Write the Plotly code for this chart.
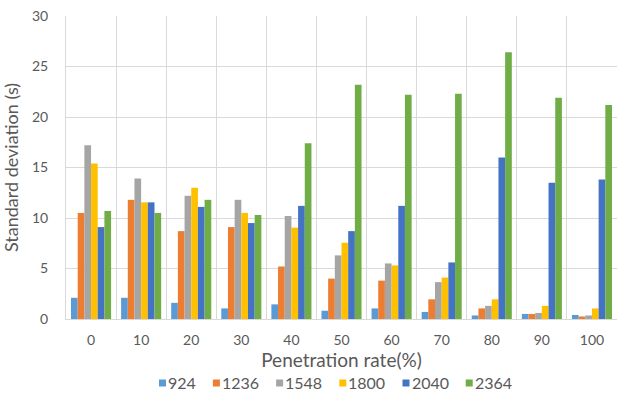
import plotly.graph_objects as go

rates = ["0", "10", "20", "30", "40", "50", "60", "70", "80", "90", "100"]
series_names = ["924", "1236", "1548", "1800", "2040", "2364"]

s924 = [2.1, 2.1, 1.6, 1.05, 1.45, 0.82, 1.05, 0.7, 0.35, 0.5, 0.4]
s1236 = [10.5, 11.8, 8.7, 9.1, 5.2, 4.0, 3.8, 1.95, 1.05, 0.5, 0.25]
s1548 = [17.2, 13.9, 12.2, 11.8, 10.2, 6.3, 5.5, 3.65, 1.3, 0.6, 0.35]
s1800 = [15.4, 11.55, 13.0, 10.5, 9.05, 7.55, 5.3, 4.1, 1.95, 1.3, 1.05]
s2040 = [9.1, 11.55, 11.1, 9.5, 11.2, 8.7, 11.2, 5.6, 16.0, 13.5, 13.8]
s2364 = [10.7, 10.5, 11.8, 10.3, 17.4, 23.2, 22.2, 22.3, 26.4, 21.9, 21.2]

colors = ["#5B9BD5", "#ED7D31", "#A5A5A5", "#FFC000", "#4472C4", "#70AD47"]
all_series = [s924, s1236, s1548, s1800, s2040, s2364]

FONT = "Lato, 'Open Sans', sans-serif"
TXT = "#595959"
GRID = "#D9D9D9"

W, H = 617, 394
ML, MR, MT, MB = 66, 0, 16, 75
PW, PH = W - ML - MR, H - MT - MB

fig = go.Figure()
positions = list(range(len(rates)))
for name, vals, col in zip(series_names, all_series, colors):
    fig.add_trace(go.Bar(x=positions, y=vals, name=name, showlegend=False,
                         marker=dict(color=col, line=dict(width=0))))

# compact legend row under the axis title: small square + label per series
legend_y_px = 383          # vertical centre of the legend row (pixels from top)
x_px = 159
sq = 7
digit_w = 9.3
for name, col in zip(series_names, colors):
    x0 = (x_px - ML) / PW
    x1 = (x_px + sq - ML) / PW
    y0 = (H - MB - (legend_y_px + sq / 2)) / PH
    y1 = (H - MB - (legend_y_px - sq / 2)) / PH
    fig.add_shape(type="rect", xref="paper", yref="paper",
                  x0=x0, x1=x1, y0=y0, y1=y1,
                  fillcolor=col, line=dict(width=0))
    fig.add_annotation(xref="paper", yref="paper",
                       x=(x_px + sq + 1 - ML) / PW,
                       y=(H - MB - legend_y_px) / PH,
                       text=name, showarrow=False, xanchor="left", yanchor="middle",
                       xshift=0, borderpad=0,
                       font=dict(size=16, color=TXT, family=FONT))
    x_px += sq + 3 + digit_w * len(name) + 16

fig.update_layout(
    width=W, height=H,
    margin=dict(l=ML, r=MR, t=MT, b=MB),
    paper_bgcolor="white", plot_bgcolor="white",
    barmode="group", bargap=0.2, bargroupgap=0,
    font=dict(family=FONT, color=TXT, size=14),
    showlegend=False,
)
fig.update_xaxes(
    range=[-0.5, len(rates) - 0.5],
    tickvals=positions, ticktext=rates,
    showgrid=False, zeroline=False, automargin=False,
    showline=True, linecolor=GRID, linewidth=1,
    minor=dict(tick0=0.5, dtick=1, showgrid=True, gridcolor=GRID, gridwidth=1),
    ticks="", ticklabelstandoff=8, tickfont=dict(size=14, color=TXT),
    title=dict(text="Penetration rate(%)", font=dict(size=19, color=TXT), standoff=0),
)
fig.update_yaxes(
    range=[0, 30], dtick=5, tick0=0,
    showgrid=True, gridcolor=GRID, gridwidth=1, automargin=False,
    zeroline=False, showline=True, linecolor=GRID, linewidth=1,
    ticks="", ticklabelstandoff=14, tickfont=dict(size=14, color=TXT),
    title=dict(text="Standard deviation (s)", font=dict(size=18, color=TXT), standoff=12),
)

fig.write_html("out.html")
